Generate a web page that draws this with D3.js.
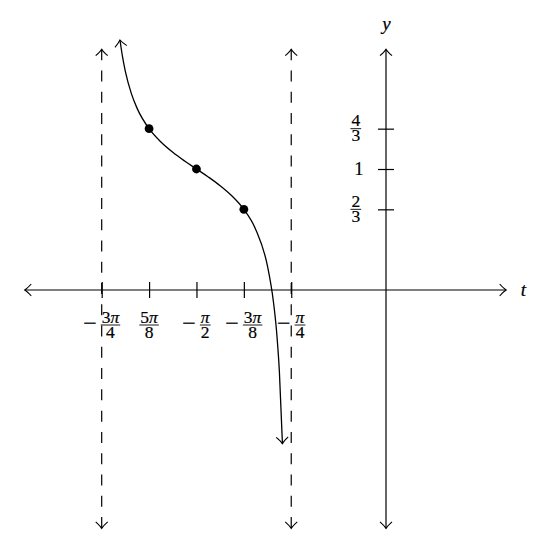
<!DOCTYPE html>
<html lang="en">
<head>
    <meta charset="UTF-8">
    <title>Graf kotangensa</title>
    <script src="https://cdn.jsdelivr.net/npm/d3@7"></script>
    <style>
        body {margin: 0; background: #fff;}
        svg text {font-family: "Liberation Serif", "DejaVu Serif", serif; fill: #000; stroke: #000; stroke-width: 0.2px;}
    </style>
</head>
<body>
    <div id="graf"></div>

    <script>
        // t in units of pi, y values
        let curveT = [-0.7018, -0.695, -0.6875, -0.6719, -0.65625, -0.625, -0.59375, -0.5625,
                      -0.53125, -0.5, -0.46875, -0.4375, -0.40625, -0.375, -0.34375, -0.3125,
                      -0.2969, -0.2891, -0.28125, -0.2732];
        let curveY = [2.066, 1.926, 1.805, 1.625, 1.499, 1.333, 1.223, 1.138,
                      1.066, 1.0, 0.934, 0.862, 0.777, 0.667, 0.501, 0.195,
                      -0.099, -0.327, -0.676, -1.27];
        let pointT = [-0.625, -0.5, -0.375];
        let pointY = [4 / 3, 1, 2 / 3];
        let asymptoteT = [-0.75, -0.25];

        let xTicks = [-0.75, -0.625, -0.5, -0.375, -0.25];
        let xTickNeg = [true, false, true, true, true];
        let xTickNum = ["3π", "5π", "π", "3π", "π"];
        let xTickDen = ["4", "8", "2", "8", "4"];

        let yTicks = [2 / 3, 1, 4 / 3];
        let yTickNum = ["2", "1", "4"];
        let yTickDen = ["3", null, "3"];

        let xAxisRange = [-0.953, 0.317];
        let yAxisRange = [-1.97, 1.99];

        let width = 534, height = 544;

        let x = d3.scaleLinear().domain([-0.75, 0]).range([101.7, 386]);
        let y = d3.scaleLinear().domain([0, 1]).range([290, 169]);

        let svg = d3.select("#graf")
            .append("svg")
            .attr("width", width)
            .attr("height", height);

        // open arrow head
        svg.append("defs").append("marker")
            .attr("id", "puscica")
            .attr("markerUnits", "userSpaceOnUse")
            .attr("viewBox", "-8 -8 10 16")
            .attr("refX", 0).attr("refY", 0)
            .attr("markerWidth", 10).attr("markerHeight", 16)
            .attr("orient", "auto-start-reverse")
            .append("path")
            .attr("d", "M-6.5,-6 Q-2.5,-1.5 0,0 Q-2.5,1.5 -6.5,6")
            .attr("fill", "none")
            .attr("stroke", "#000")
            .attr("stroke-width", 1.1)
            .attr("stroke-dasharray", "none");

        // asymptotes
        svg.selectAll(".asimptota")
            .data(asymptoteT)
            .enter().append("line")
            .attr("class", "asimptota")
            .attr("x1", d => x(d)).attr("x2", d => x(d))
            .attr("y1", y(yAxisRange[1])).attr("y2", y(yAxisRange[0]))
            .attr("stroke", "#000")
            .attr("stroke-width", 1.2)
            .attr("stroke-dasharray", "11,10.26")
            .attr("marker-start", "url(#puscica)")
            .attr("marker-end", "url(#puscica)");

        // t axis
        svg.append("line")
            .attr("x1", x(xAxisRange[0])).attr("x2", x(xAxisRange[1]))
            .attr("y1", y(0)).attr("y2", y(0))
            .attr("stroke", "#000").attr("stroke-width", 1.2)
            .attr("marker-start", "url(#puscica)")
            .attr("marker-end", "url(#puscica)");

        // y axis
        svg.append("line")
            .attr("x1", x(0)).attr("x2", x(0))
            .attr("y1", y(yAxisRange[0])).attr("y2", y(yAxisRange[1]))
            .attr("stroke", "#000").attr("stroke-width", 1.2)
            .attr("marker-start", "url(#puscica)")
            .attr("marker-end", "url(#puscica)");

        // ticks crossing the axes
        let osX = svg.append("g")
            .attr("transform", "translate(0," + (y(0) - 8) + ")")
            .call(d3.axisBottom(x).tickValues(xTicks).tickSize(16).tickFormat(""));
        let osY = svg.append("g")
            .attr("transform", "translate(" + (x(0) + 8) + ",0)")
            .call(d3.axisLeft(y).tickValues(yTicks).tickSize(16).tickFormat(""));
        [osX, osY].forEach(function(g) {
            g.select(".domain").remove();
            g.selectAll(".tick line").attr("stroke", "#000").attr("stroke-width", 1.2);
        });

        function dodajBesedilo(el, s) {
            for (let c of s) {
                el.append("tspan").text(c).style("font-style", c === "π" ? "italic" : "normal");
            }
        }

        function besedilo(fs) {
            return svg.append("text").style("font-size", fs + "px");
        }

        // fraction centred at cx with its bar at barY
        function ulomek(cx, barY, num, den, fs) {
            let tn = besedilo(fs).attr("x", cx).attr("y", barY - 2.3).attr("text-anchor", "middle");
            dodajBesedilo(tn, num);
            let td = besedilo(fs).attr("x", cx).attr("y", barY + 12.8).attr("text-anchor", "middle");
            dodajBesedilo(td, den);
            let w = Math.max(tn.node().getComputedTextLength(), td.node().getComputedTextLength()) + 2;
            svg.append("line")
                .attr("x1", cx - w / 2).attr("x2", cx + w / 2)
                .attr("y1", barY).attr("y2", barY)
                .attr("stroke", "#000").attr("stroke-width", 0.9);
        }

        function sirinaUlomka(num, den, fs) {
            let t1 = besedilo(fs);
            dodajBesedilo(t1, num);
            let t2 = besedilo(fs);
            dodajBesedilo(t2, den);
            let w = Math.max(t1.node().getComputedTextLength(), t2.node().getComputedTextLength()) + 2;
            t1.remove(); t2.remove();
            return w;
        }

        // t tick labels
        let barX = 325, fsUlomek = 17.5;
        xTicks.forEach(function(t, i) {
            let fw = sirinaUlomka(xTickNum[i], xTickDen[i], fsUlomek);
            let cx = x(t);
            if (xTickNeg[i]) {
                let minus = besedilo(24).attr("y", barX + 6).text("−");
                let mw = minus.node().getComputedTextLength();
                let gap = 4;
                let start = cx - (mw + gap + fw) / 2;
                minus.attr("x", start);
                ulomek(start + mw + gap + fw / 2, barX, xTickNum[i], xTickDen[i], fsUlomek);
            } else {
                ulomek(cx, barX, xTickNum[i], xTickDen[i], fsUlomek);
            }
        });

        // y tick labels
        yTicks.forEach(function(v, i) {
            if (yTickDen[i] === null) {
                besedilo(18.5).attr("x", x(0) - 27.2).attr("y", y(v) + 6)
                    .attr("text-anchor", "middle").text(yTickNum[i]);
            } else {
                ulomek(x(0) - 30.2, y(v), yTickNum[i], yTickDen[i], fsUlomek);
            }
        });

        // axis names
        besedilo(19).attr("x", x(0) + 0.5).attr("y", 29.5)
            .attr("text-anchor", "middle").style("font-style", "italic").text("y");
        besedilo(19).attr("x", 523.5).attr("y", 296)
            .attr("text-anchor", "middle").style("font-style", "italic").text("t");

        // curve
        let krivulja = curveT.map((t, i) => ({t: t, v: curveY[i]}));
        svg.append("path")
            .datum(krivulja)
            .attr("fill", "none")
            .attr("stroke", "#000")
            .attr("stroke-width", 1.3)
            .attr("marker-start", "url(#puscica)")
            .attr("marker-end", "url(#puscica)")
            .attr("d", d3.line()
                .curve(d3.curveMonotoneX)
                .x(d => x(d.t))
                .y(d => y(d.v)));

        // marked points
        svg.selectAll(".tocka")
            .data(pointT)
            .enter().append("circle")
            .attr("class", "tocka")
            .attr("cx", d => x(d))
            .attr("cy", (d, i) => y(pointY[i]))
            .attr("r", 4.4)
            .attr("fill", "#000");
    </script>
</body>
</html>
